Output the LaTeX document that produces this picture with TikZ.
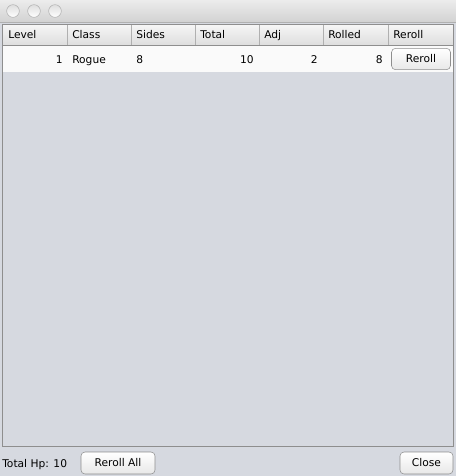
\documentclass[tikz,border=0pt]{standalone}
\usepackage{fontspec}
\setmainfont{DejaVu Sans}
\usetikzlibrary{positioning}
\definecolor{winbg}{RGB}{214,217,224}
\definecolor{lineg}{RGB}{142,142,142}
\definecolor{headtop}{RGB}{246,246,246}
\definecolor{headbot}{RGB}{222,222,222}
\definecolor{bartop}{RGB}{236,236,236}
\definecolor{barbot}{RGB}{210,210,210}
\definecolor{rowbg}{RGB}{250,250,250}
\tikzset{
  cell/.style={inner sep=0pt, font=\fontsize{8}{10}\selectfont},
  btn/.style={draw=lineg, rounded corners=3pt, top color=white, bottom color=headbot!70,
    font=\fontsize{8}{10}\selectfont, inner sep=0pt},
  knob/.style={circle, draw=lineg!70, inner sep=0pt, minimum size=9.5pt,
    top color=headbot, bottom color=white}
}
\begin{document}
\begin{tikzpicture}[x=0.75pt,y=-0.75pt]
  \useasboundingbox (0,0) rectangle (456,476);
  \fill[winbg] (0,0) rectangle (456,476);

  % title bar
  \shade[top color=bartop, bottom color=barbot] (0,0) rectangle (456,22);
  \draw[lineg!70] (0,22) -- (456,22);
  \begin{scope}[every node/.style={knob}]
    \node (k1) at (13,11) {};
    \node (k2) at (34,11) {};
    \node (k3) at (55,11) {};
  \end{scope}

  % table frame and header
  \shade[top color=headtop, bottom color=headbot] (2,24) rectangle (453,45);
  \fill[rowbg] (2,46) rectangle (453,72);
  \draw[lineg] (2,24) rectangle (453,446);
  \draw[lineg] (2,45) -- (453,45);
  \foreach \sx in {67,131,195,259,323,388}
    \draw[lineg!70] (\sx,25) -- (\sx,45);

  \begin{scope}[every node/.style={cell, anchor=base west}]
    \node (hlevel)  at (8,38.5)   {Level};
    \node (hclass)  at (72,38.5)  {Class};
    \node (hsides)  at (136,38.5) {Sides};
    \node (htotal)  at (200,38.5) {Total};
    \node (hadj)    at (264,38.5) {Adj};
    \node (hrolled) at (328,38.5) {Rolled};
    \node (hreroll) at (393,38.5) {Reroll};
  \end{scope}

  % data row
  \begin{scope}[every node/.style={cell}]
    \node[anchor=base east] (vlevel)  at (63,63.5)  {1};
    \node[anchor=base west] (vclass)  at (72,63.5)  {Rogue};
    \node[anchor=base west] (vsides)  at (136,63.5) {8};
    \node[anchor=base east] (vtotal)  at (254,63.5) {10};
    \node[anchor=base east] (vadj)    at (318,63.5) {2};
    \node[anchor=base east] (vrolled) at (383,63.5) {8};
  \end{scope}
  \node[btn, minimum width=44.25pt, minimum height=16pt] (breroll) at (421,59) {Reroll};

  % bottom bar
  \node[cell, anchor=base west] (totalhp) at (2,467) {Total Hp: 10};
  \node[btn, minimum width=55.5pt, minimum height=16.5pt] (brollall) at (118,463) {Reroll All};
  \node[btn, minimum width=39.75pt, minimum height=16.5pt] (bclose) at (426.5,463) {Close};
\end{tikzpicture}
\end{document}
